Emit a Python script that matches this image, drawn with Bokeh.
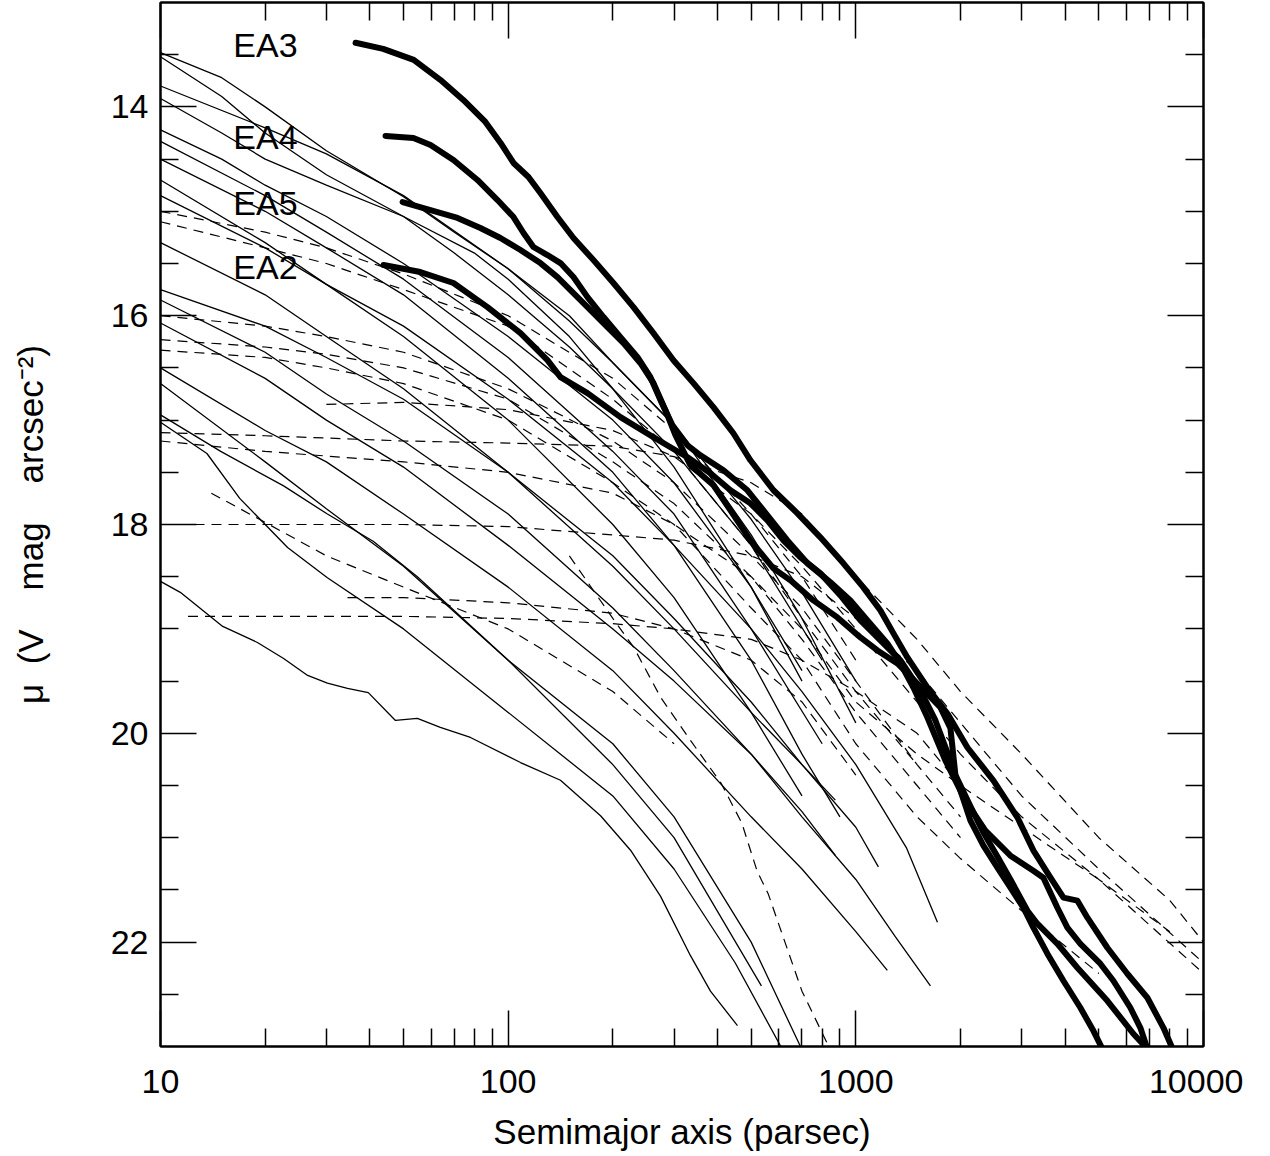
from bokeh.plotting import figure
from bokeh.models import LogAxis, LinearAxis, FixedTicker, Label
from bokeh.embed import file_html
from bokeh.resources import INLINE

FONT = "Liberation Sans"

# ---------------- data ----------------
x_major = [10, 100, 1000, 10000]
x_minor = [20, 30, 40, 50, 60, 70, 80, 90, 200, 300, 400, 500, 600, 700, 800, 900,
           2000, 3000, 4000, 5000, 6000, 7000, 8000, 9000]
y_major = [14, 16, 18, 20, 22]
y_minor = [13.5, 14.5, 15, 15.5, 16.5, 17, 17.5, 18.5, 19, 19.5, 20.5, 21, 21.5, 22.5]

# thick curves (labelled)
ea3_x = [36.4, 43.7, 53.5, 63.8, 74.3, 86.0, 95.1, 103.6, 114.4, 123.8, 138.6, 154.1, 175.9, 200.8,
         229.3, 261.7, 298.8, 341.1, 389.3, 444.4, 497.6, 579.6, 679.3, 790.6, 920.7, 1051, 1177,
         1283, 1407, 1606, 1834, 2094, 2488, 2917, 3243, 3630, 3956, 4339, 4636, 5291, 6040, 6896,
         7670, 8145]
ea3_y = [13.386, 13.444, 13.549, 13.741, 13.933, 14.144, 14.345, 14.537, 14.671, 14.825, 15.055,
         15.256, 15.467, 15.687, 15.918, 16.167, 16.426, 16.646, 16.876, 17.126, 17.385, 17.672,
         17.893, 18.123, 18.372, 18.602, 18.823, 19.043, 19.273, 19.561, 19.810, 20.136, 20.453,
         20.807, 21.124, 21.383, 21.574, 21.603, 21.766, 22.054, 22.303, 22.533, 22.821, 23.02]

ea4_x = [44.4, 53.4, 59.8, 69.6, 81.6, 93.2, 103.6, 110.7, 118.2, 129.7, 141.4, 154.1, 169.1, 188.0,
         210.4, 235.5, 256.6, 274.2, 296.9, 328.0, 357.3, 416.2, 487.7, 556.8, 635.6, 725.7, 845.3,
         964.7, 1080, 1232, 1344, 1464, 1607, 1810, 2067, 2359, 2784, 3241, 3463, 3800, 4060, 4425,
         5050, 5505, 6161, 6583, 6896]
ea4_y = [14.278, 14.297, 14.364, 14.508, 14.700, 14.892, 15.055, 15.208, 15.342, 15.419, 15.496,
         15.630, 15.822, 16.013, 16.205, 16.397, 16.589, 16.809, 17.049, 17.241, 17.337, 17.480,
         17.672, 17.912, 18.152, 18.372, 18.554, 18.727, 18.919, 19.139, 19.331, 19.561, 19.849,
         20.261, 20.645, 20.932, 21.172, 21.316, 21.383, 21.671, 21.862, 22.016, 22.207, 22.370,
         22.629, 22.821, 23.022]

ea5_x = [49.7, 59.8, 71.5, 83.2, 95.0, 108.5, 123.8, 138.6, 154.1, 172.5, 193.0, 214.6, 240.2, 261.8,
         283.4, 302.8, 334.5, 389.5, 435.9, 497.5, 579.4, 648.5, 755.1, 885.2, 1031, 1154, 1317,
         1503, 1751, 1871, 1934, 2136, 2328, 2554, 2784, 3116, 3328, 3800, 4338, 5290, 6284, 6896]
ea5_y = [14.911, 14.988, 15.064, 15.160, 15.256, 15.371, 15.496, 15.630, 15.783, 15.946, 16.109,
         16.263, 16.455, 16.646, 16.905, 17.145, 17.433, 17.624, 17.864, 18.152, 18.420, 18.535,
         18.727, 18.890, 19.082, 19.206, 19.331, 19.523, 19.753, 19.95, 20.40, 20.70, 20.95, 21.18,
         21.40, 21.70, 21.824, 22.016, 22.246, 22.562, 22.878, 23.022]

ea2_x = [43.8, 55.9, 69.6, 87.2, 108.5, 129.7, 141.4, 169.1, 210.4, 261.8, 328.0, 381.8, 435.9,
         497.5, 556.8, 619.0, 693.0, 791.0, 903.0, 1031, 1177, 1344, 1534, 1694, 1871, 1999, 2136,
         2328, 2554, 2784, 3034, 3241, 3556, 3954, 4425, 4823, 5118]
ea2_y = [15.515, 15.582, 15.687, 15.918, 16.167, 16.426, 16.589, 16.742, 16.972, 17.164, 17.356,
         17.509, 17.672, 17.797, 17.960, 18.152, 18.315, 18.468, 18.679, 18.919, 19.110, 19.302,
         19.590, 19.877, 20.261, 20.549, 20.836, 21.076, 21.287, 21.479, 21.671, 21.862, 22.111,
         22.370, 22.629, 22.850, 23.022]

# thin solid profiles
s01_x = [10, 15, 20, 30, 50, 70, 100, 150, 200, 300, 500, 700, 1000]
s01_y = [13.48, 13.72, 14.0, 14.42, 14.86, 15.2, 15.55, 16.05, 16.45, 17.05, 17.95, 18.65, 19.5]
s02_x = [10, 15, 20, 30, 50, 70, 100, 150, 200, 300, 500, 800]
s02_y = [13.52, 13.9, 14.25, 14.65, 15.05, 15.4, 15.8, 16.3, 16.7, 17.3, 18.2, 19.3]
s03_x = [10, 20, 30, 50, 100, 150, 200, 300, 500, 700, 1000]
s03_y = [13.8, 14.2, 14.45, 14.85, 15.55, 16.0, 16.45, 17.05, 18.1, 18.9, 19.9]
s04_x = [10, 15, 20, 30, 50, 80, 100, 150, 200, 300, 500, 700]
s04_y = [13.92, 14.25, 14.5, 14.75, 15.05, 15.4, 15.65, 16.2, 16.7, 17.45, 18.6, 19.5]
s05_x = [10, 15, 20, 30, 50, 100, 200, 300, 500, 700]
s05_y = [14.22, 14.5, 14.75, 15.05, 15.5, 16.2, 17.0, 17.6, 18.6, 19.4]
s06_x = [10, 20, 30, 50, 100, 200, 300, 500, 800]
s06_y = [14.33, 14.85, 15.2, 15.65, 16.4, 17.3, 17.9, 19.0, 20.1]
s07_x = [10, 20, 30, 50, 100, 200, 300, 500, 700, 900]
s07_y = [14.5, 15.0, 15.35, 15.8, 16.6, 17.5, 18.2, 19.3, 20.2, 20.8]
s08_x = [10, 20, 30, 50, 100, 200, 300, 500, 700]
s08_y = [14.7, 15.3, 15.7, 16.2, 17.0, 18.0, 18.7, 19.8, 20.6]
s09_x = [10, 20, 30, 50, 100, 200, 300, 500, 700, 1000, 1400, 1717]
s09_y = [14.85, 15.35, 15.7, 16.1, 16.8, 17.6, 18.2, 19.0, 19.6, 20.3, 21.1, 21.81]
s10_x = [10, 20, 30, 50, 100, 200, 300, 500, 700, 873]
s10_y = [15.3, 15.8, 16.2, 16.7, 17.5, 18.4, 19.0, 19.8, 20.3, 20.64]
s11_x = [10, 20, 30, 50, 100, 200, 300, 500, 700, 1000, 1161]
s11_y = [15.75, 16.1, 16.4, 16.8, 17.5, 18.3, 18.9, 19.7, 20.3, 20.9, 21.28]
s12_x = [10, 20, 30, 50, 100, 200, 300, 500, 700, 873]
s12_y = [15.85, 16.35, 16.75, 17.2, 17.9, 18.8, 19.4, 20.2, 20.75, 21.17]
s13_x = [10, 20, 30, 50, 100, 200, 300, 500, 700, 1000, 1300, 1639]
s13_y = [16.07, 16.6, 17.0, 17.45, 18.2, 19.0, 19.5, 20.2, 20.8, 21.4, 21.95, 22.42]
s14_x = [10, 20, 30, 50, 100, 200, 300, 500, 700, 1000, 1232]
s14_y = [16.5, 17.1, 17.4, 17.9, 18.6, 19.4, 20.0, 20.8, 21.3, 21.9, 22.27]
s15_x = [10, 20, 30, 50, 100, 200, 300, 500, 693]
s15_y = [16.65, 17.4, 17.85, 18.4, 19.3, 20.1, 20.8, 22.0, 23.0]
s16_x = [10, 14.9, 22.6, 30.2, 40.9, 54.8, 100, 200, 300, 535]
s16_y = [16.95, 17.3, 17.63, 17.9, 18.16, 18.5, 19.3, 20.3, 21.0, 22.42]
s17_x = [10, 13.6, 16.9, 23.2, 30.2, 50, 100, 200, 300, 450, 620]
s17_y = [17.02, 17.32, 17.75, 18.22, 18.51, 19.0, 19.8, 20.6, 21.3, 22.2, 23.05]
s18_x = [10, 11.4, 15.1, 19.0, 22.6, 26.5, 30.2, 34.5, 39.6, 47.4, 54.8, 63.8, 77.9, 108.5, 141.4,
         184.4, 224.9, 274.2, 334.5, 381.8, 456.6]
s18_y = [18.545, 18.65, 18.976, 19.13, 19.283, 19.446, 19.52, 19.57, 19.61, 19.877, 19.858, 19.944,
         20.04, 20.28, 20.45, 20.79, 21.12, 21.56, 22.13, 22.47, 22.80]

# thin dashed profiles
d01_x = [10, 20, 30, 50, 100, 200, 300, 500, 700, 1000]
d01_y = [15.0, 15.2, 15.35, 15.6, 16.0, 16.6, 17.1, 17.9, 18.5, 19.3]
d02_x = [10, 20, 30, 50, 100, 200, 300, 500, 700, 1000, 1500]
d02_y = [15.1, 15.35, 15.5, 15.75, 16.1, 16.8, 17.3, 18.2, 18.9, 19.6, 20.3]
d03_x = [10, 20, 30, 50, 100, 200, 300, 500, 700, 1000, 1500, 2000]
d03_y = [16.0, 16.1, 16.2, 16.35, 16.7, 17.2, 17.6, 18.3, 18.8, 19.5, 20.3, 20.8]
d04_x = [10, 20, 30, 50, 100, 200, 300, 500, 700, 1000, 1500, 2000]
d04_y = [16.23, 16.3, 16.37, 16.5, 16.8, 17.4, 17.8, 18.5, 19.1, 19.8, 20.5, 21.0]
d05_x = [10, 20, 30, 50, 100, 200, 300, 500, 700, 1000, 1500, 2000, 3000, 5000]
d05_y = [16.33, 16.4, 16.5, 16.65, 17.0, 17.6, 18.0, 18.8, 19.3, 20.1, 20.8, 21.2, 21.7, 22.3]
d06_x = [30, 50, 100, 200, 300, 500, 700, 1000, 1500, 2000, 3000, 5000, 8000]
d06_y = [16.85, 16.83, 16.9, 17.1, 17.35, 17.9, 18.4, 19.0, 19.7, 20.2, 20.8, 21.4, 21.9]
d07_x = [10, 20, 50, 100, 200, 300, 500, 700, 1000, 1500, 2000, 3000, 5000, 8000, 10000]
d07_y = [17.12, 17.15, 17.2, 17.22, 17.25, 17.35, 17.6, 17.9, 18.5, 19.1, 19.6, 20.2, 21.0, 21.6, 22.0]
d08_x = [10, 20, 50, 100, 200, 300, 500, 700, 1000, 1500, 2000, 3000, 5000, 10000]
d08_y = [17.2, 17.3, 17.4, 17.5, 17.7, 18.0, 18.5, 19.0, 19.7, 20.2, 20.5, 20.9, 21.4, 22.3]
d09_x = [10, 20, 50, 100, 200, 300, 500, 700, 1000, 1500, 2000, 3000, 5000, 10000]
d09_y = [18.0, 18.0, 18.0, 18.02, 18.1, 18.15, 18.3, 18.5, 18.9, 19.4, 19.9, 20.6, 21.3, 22.2]
d10_x = [12, 20, 50, 100, 200, 300, 500, 700, 1000, 1500, 2000]
d10_y = [18.88, 18.88, 18.88, 18.9, 18.95, 19.0, 19.1, 19.3, 19.6, 20.0, 20.5]
d11_x = [34.5, 50, 100, 200, 300, 500, 700, 1000]
d11_y = [18.7, 18.7, 18.75, 18.85, 19.0, 19.3, 19.7, 20.4]
d12_x = [14, 20, 30, 50, 100, 200, 300]
d12_y = [17.7, 17.98, 18.3, 18.6, 19.0, 19.6, 20.1]
d13_x = [150, 200, 230, 275, 330, 410, 470, 520, 560, 700, 850]
d13_y = [18.3, 18.9, 19.18, 19.66, 20.04, 20.48, 20.86, 21.32, 21.54, 22.47, 23.05]

thin_solid = [(s01_x, s01_y), (s02_x, s02_y), (s03_x, s03_y), (s04_x, s04_y), (s05_x, s05_y),
              (s06_x, s06_y), (s07_x, s07_y), (s08_x, s08_y), (s09_x, s09_y), (s10_x, s10_y),
              (s11_x, s11_y), (s12_x, s12_y), (s13_x, s13_y), (s14_x, s14_y), (s15_x, s15_y),
              (s16_x, s16_y), (s17_x, s17_y), (s18_x, s18_y)]
thin_dashed = [(d01_x, d01_y), (d02_x, d02_y), (d03_x, d03_y), (d04_x, d04_y), (d05_x, d05_y),
               (d06_x, d06_y), (d07_x, d07_y), (d08_x, d08_y), (d09_x, d09_y), (d10_x, d10_y),
               (d11_x, d11_y), (d12_x, d12_y), (d13_x, d13_y)]
thick = [(ea3_x, ea3_y), (ea4_x, ea4_y), (ea5_x, ea5_y), (ea2_x, ea2_y)]

label_names = ["EA3", "EA4", "EA5", "EA2"]
label_x = [16.2, 16.2, 16.2, 16.2]
label_y = [13.41, 14.29, 14.92, 15.53]

# ---------------- figure ----------------
p = figure(x_axis_type="log", x_range=(10, 10000), y_range=(23, 13),
           frame_width=1043, frame_height=1044,
           min_border_left=160, min_border_right=40, min_border_top=2, min_border_bottom=0,
           output_backend="svg", toolbar_location=None)
p.background_fill_color = "white"
p.border_fill_color = "white"
p.outline_line_color = "black"
p.outline_line_width = 2
p.grid.visible = False

xt = FixedTicker(ticks=x_major, minor_ticks=x_minor)
yt = FixedTicker(ticks=y_major, minor_ticks=y_minor)


def style(ax, show):
    ax.major_tick_in = 36
    ax.major_tick_out = 0
    ax.minor_tick_in = 18
    ax.minor_tick_out = 0
    ax.major_tick_line_color = "black"
    ax.minor_tick_line_color = "black"
    ax.major_tick_line_width = 1.5
    ax.minor_tick_line_width = 1.5
    ax.axis_line_color = "black"
    ax.axis_line_width = 2
    if show:
        ax.major_label_text_font = FONT
        ax.major_label_text_font_size = "34px"
        ax.major_label_text_color = "black"
        ax.axis_label_text_font = FONT
        ax.axis_label_text_font_size = "35px"
        ax.axis_label_text_font_style = "normal"
        ax.axis_label_text_color = "black"
    else:
        ax.major_label_text_font_size = "2px"
        ax.major_label_text_alpha = 0
        ax.major_label_standoff = 0


xa = p.xaxis[0]
xa.ticker = xt
xa.major_label_overrides = {10: "10", 100: "100", 1000: "1000", 10000: "10000"}
xa.axis_label = "Semimajor axis (parsec)"
style(xa, True)
xa.major_label_standoff = 23
xa.axis_label_standoff = 16

ya = p.yaxis[0]
ya.ticker = yt
ya.axis_label = "\u03bc\u00a0 (V\u00a0\u00a0\u00a0 mag\u00a0\u00a0\u00a0 arcsec\u207b\u00b2)"
style(ya, True)
ya.major_label_standoff = 12
ya.axis_label_standoff = 58
ya.major_label_orientation = "horizontal"

top = LogAxis(ticker=FixedTicker(ticks=x_major, minor_ticks=x_minor))
style(top, False)
p.add_layout(top, "above")
right = LinearAxis(ticker=FixedTicker(ticks=y_major, minor_ticks=y_minor))
style(right, False)
p.add_layout(right, "right")

for xs, ys in thin_dashed:
    p.line(xs, ys, line_color="black", line_width=1.2, line_dash="10 7")
for xs, ys in thin_solid:
    p.line(xs, ys, line_color="black", line_width=1.3)
for xs, ys in thick:
    p.line(xs, ys, line_color="black", line_width=6, line_cap="round", line_join="round")

for name, lx, ly in zip(label_names, label_x, label_y):
    p.add_layout(Label(x=lx, y=ly, text=name, text_font=FONT, text_font_size="34px",
                       text_color="black", text_align="left", text_baseline="middle"))

open("out.html", "w").write(file_html(p, INLINE))
